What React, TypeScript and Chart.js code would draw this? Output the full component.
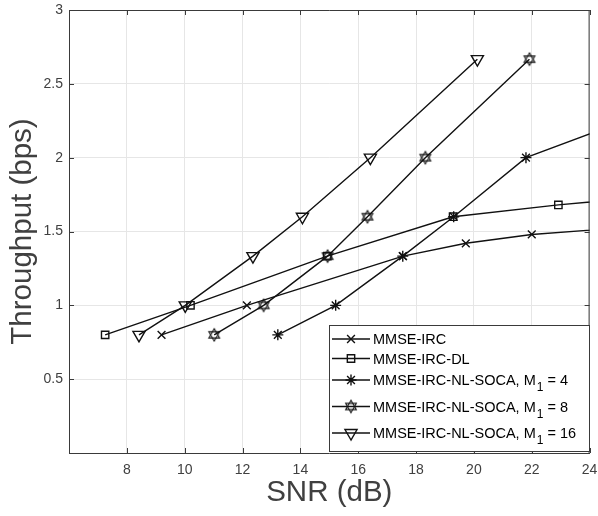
import React, { useEffect, useRef } from "react";
import { Chart, registerables } from "chart.js";
import { drawPoint } from "chart.js/helpers";

Chart.register(...registerables);

// ---- Data ----
const snrIRC = [9.2, 12.15, 17.55, 19.72, 22.0, 26.5];
const tpIRC = [0.8, 1.0, 1.333, 1.42, 1.48, 1.545];

const snrDL = [7.25, 10.2, 14.93, 19.28, 22.92, 26.5];
const tpDL = [0.8, 1.0, 1.333, 1.6, 1.68, 1.745];

const snrM4 = [13.22, 15.22, 17.54, 19.3, 21.8, 26.3];
const tpM4 = [0.8, 1.0, 1.333, 1.6, 2.0, 2.33];

const snrM8 = [11.02, 12.73, 14.94, 16.32, 18.32, 21.92];
const tpM8 = [0.8, 1.0, 1.333, 1.6, 2.0, 2.667];

const snrM16 = [8.42, 10.02, 12.36, 14.07, 16.42, 20.12];
const tpM16 = [0.8, 1.0, 1.333, 1.6, 2.0, 2.667];

const seriesNames = [
  "MMSE-IRC",
  "MMSE-IRC-DL",
  "MMSE-IRC-NL-SOCA, M_1 = 4",
  "MMSE-IRC-NL-SOCA, M_1 = 8",
  "MMSE-IRC-NL-SOCA, M_1 = 16",
];

const xTicksMin = 6;
const xTicksMax = 24;
const xStep = 2;
const yTicksMin = 0;
const yTicksMax = 3;
const yStep = 0.5;

const xTitle = "SNR (dB)";
const yTitle = "Throughput (bps)";

// ---- Styles ----
const FONT = "'Liberation Sans', Arial, Helvetica, sans-serif";
const TEXT_COLOR = "#404040";
const AXIS_COLOR = "#3a3a3a";
const GRID_COLOR = "#e6e6e6";
const LINE_COLOR = "#111111";

function makeHexagram(size: number, lw: number, r: number): HTMLCanvasElement {
  const c = document.createElement("canvas");
  c.width = size;
  c.height = size;
  const ctx = c.getContext("2d")!;
  const cx = size / 2;
  const cy = size / 2;
  ctx.strokeStyle = LINE_COLOR;
  ctx.lineWidth = lw;
  ctx.lineJoin = "miter";
  for (const off of [-Math.PI / 2, Math.PI / 2]) {
    ctx.beginPath();
    for (let i = 0; i < 3; i++) {
      const a = off + (i * 2 * Math.PI) / 3;
      const px = cx + r * Math.cos(a);
      const py = cy + r * Math.sin(a);
      if (i === 0) ctx.moveTo(px, py);
      else ctx.lineTo(px, py);
    }
    ctx.closePath();
    ctx.stroke();
  }
  return c;
}

function zip(xs: number[], ys: number[]) {
  return xs.map((x, i) => ({ x, y: ys[i] }));
}

export default function App() {
  const ref = useRef<HTMLCanvasElement | null>(null);

  useEffect(() => {
    if (!ref.current) return;
    const hex = makeHexagram(16, 1.1, 6.2);

    const markerStyles: any[] = [
      { pointStyle: "crossRot", radius: 5.5, rotation: 0 },
      { pointStyle: "rect", radius: 5.2, rotation: 0 },
      { pointStyle: "star", radius: 5.5, rotation: 0 },
      { pointStyle: hex, radius: 6, rotation: 0 },
      { pointStyle: "triangle", radius: 7, rotation: 180 },
    ];

    const dataSets = [
      zip(snrIRC, tpIRC),
      zip(snrDL, tpDL),
      zip(snrM4, tpM4),
      zip(snrM8, tpM8),
      zip(snrM16, tpM16),
    ];

    const datasets = dataSets.map((d, i) => ({
      label: seriesNames[i],
      data: d,
      showLine: true,
      borderColor: LINE_COLOR,
      borderWidth: 1.4,
      backgroundColor: "rgba(0,0,0,0)",
      pointStyle: markerStyles[i].pointStyle,
      pointRadius: markerStyles[i].radius,
      pointRotation: markerStyles[i].rotation,
      pointBorderColor: LINE_COLOR,
      pointBackgroundColor: "rgba(0,0,0,0)",
      pointBorderWidth: 1.4,
      order: 5 - i,
    }));

    const boxPlugin = {
      id: "boxTicks",
      beforeDatasetsDraw(chart: any) {
        const { ctx, chartArea, scales } = chart;
        const { left, right, top, bottom } = chartArea;
        ctx.save();
        ctx.strokeStyle = AXIS_COLOR;
        ctx.lineWidth = 1;
        ctx.beginPath();
        ctx.moveTo(left, top + 0.5);
        ctx.lineTo(right, top + 0.5);
        ctx.moveTo(right - 0.5, top);
        ctx.lineTo(right - 0.5, bottom);
        const tl = 5;
        for (const t of scales.x.ticks) {
          const px = Math.round(scales.x.getPixelForValue(t.value)) + 0.5;
          ctx.moveTo(px, bottom);
          ctx.lineTo(px, bottom - tl);
          ctx.moveTo(px, top);
          ctx.lineTo(px, top + tl);
        }
        for (const t of scales.y.ticks) {
          const py = Math.round(scales.y.getPixelForValue(t.value)) + 0.5;
          ctx.moveTo(left, py);
          ctx.lineTo(left + tl, py);
          ctx.moveTo(right, py);
          ctx.lineTo(right - tl, py);
        }
        ctx.stroke();
        ctx.restore();
      },
    };

    const legendPlugin = {
      id: "matlabLegend",
      afterDraw(chart: any) {
        const { ctx } = chart;
        const boxL = 329.5;
        const boxT = 325.5;
        const boxR = 589.5;
        const boxB = 451.5;
        const rows = [339, 358.5, 380, 406.5, 433];
        const lineX0 = 332;
        const lineX1 = 370;
        const markX = 351;
        const textX = 373;
        const fs = 14.5;
        const subFs = 12;
        ctx.save();
        ctx.fillStyle = "#ffffff";
        ctx.fillRect(boxL, boxT, boxR - boxL, boxB - boxT);
        ctx.strokeStyle = AXIS_COLOR;
        ctx.lineWidth = 1;
        ctx.strokeRect(boxL, boxT, boxR - boxL, boxB - boxT);

        seriesNames.forEach((name, i) => {
          const y = rows[i];
          ctx.strokeStyle = LINE_COLOR;
          ctx.lineWidth = 1.4;
          ctx.beginPath();
          ctx.moveTo(lineX0, y);
          ctx.lineTo(lineX1, y);
          ctx.stroke();
          ctx.fillStyle = "rgba(0,0,0,0)";
          ctx.strokeStyle = LINE_COLOR;
          ctx.lineWidth = 1.4;
          drawPoint(
            ctx,
            {
              pointStyle: markerStyles[i].pointStyle,
              radius: markerStyles[i].radius,
              rotation: markerStyles[i].rotation,
              borderWidth: 1.4,
            } as any,
            markX,
            y
          );

          ctx.fillStyle = "#000000";
          ctx.textBaseline = "alphabetic";
          ctx.textAlign = "left";
          const base = y + fs * 0.36;
          const parts = name.split("_");
          ctx.font = `${fs}px ${FONT}`;
          let x = textX;
          ctx.fillText(parts[0], x, base);
          x += ctx.measureText(parts[0]).width;
          if (parts.length > 1) {
            const sub = parts[1].charAt(0);
            const rest = parts[1].slice(1);
            ctx.font = `${subFs}px ${FONT}`;
            ctx.fillText(sub, x + 1, base + 6);
            x += ctx.measureText(sub).width + 1;
            ctx.font = `${fs}px ${FONT}`;
            ctx.fillText(rest, x, base);
          }
        });
        ctx.restore();
      },
    };

    const chart = new Chart(ref.current, {
      type: "scatter",
      data: { datasets: datasets as any },
      plugins: [boxPlugin, legendPlugin],
      options: {
        responsive: false,
        animation: false,
        devicePixelRatio: 1,
        layout: { padding: { top: 10, right: 5, left: 0, bottom: 0 } },
        plugins: {
          legend: { display: false },
          tooltip: { enabled: false },
        },
        scales: {
          x: {
            type: "linear",
            min: xTicksMin,
            max: xTicksMax,
            ticks: {
              stepSize: xStep,
              autoSkip: false,
              maxRotation: 0,
              padding: 9,
              color: TEXT_COLOR,
              font: { family: FONT, size: 14 },
              callback: (v: any) => (v === xTicksMin ? "" : String(v)),
            },
            grid: { color: GRID_COLOR, drawTicks: false, lineWidth: 1 },
            border: { display: true, color: AXIS_COLOR, width: 1 },
            title: {
              display: true,
              text: xTitle,
              color: TEXT_COLOR,
              font: { family: FONT, size: 29.5 },
              padding: { top: 0, bottom: 5 },
            },
            afterFit: (s: any) => {
              s.height = 63;
              s.paddingLeft = 0;
              s.paddingRight = 0;
            },
          },
          y: {
            type: "linear",
            min: yTicksMin,
            max: yTicksMax,
            ticks: {
              stepSize: yStep,
              autoSkip: false,
              padding: 6,
              color: TEXT_COLOR,
              font: { family: FONT, size: 14 },
              callback: (v: any) => (v === yTicksMin ? "" : String(v)),
            },
            grid: { color: GRID_COLOR, drawTicks: false, lineWidth: 1 },
            border: { display: true, color: AXIS_COLOR, width: 1 },
            title: {
              display: true,
              text: yTitle,
              color: TEXT_COLOR,
              font: { family: FONT, size: 29.5 },
              padding: { top: 5, bottom: 0 },
            },
            afterFit: (s: any) => {
              s.width = 69;
              s.paddingTop = 0;
              s.paddingBottom = 0;
            },
          },
        },
      } as any,
    });

    return () => chart.destroy();
  }, []);

  return (
    <div style={{ position: "absolute", left: 0, top: 0, width: 598, height: 516, background: "#fff" }}>
      <canvas ref={ref} width={598} height={516} style={{ display: "block", width: 598, height: 516 }} />
    </div>
  );
}
